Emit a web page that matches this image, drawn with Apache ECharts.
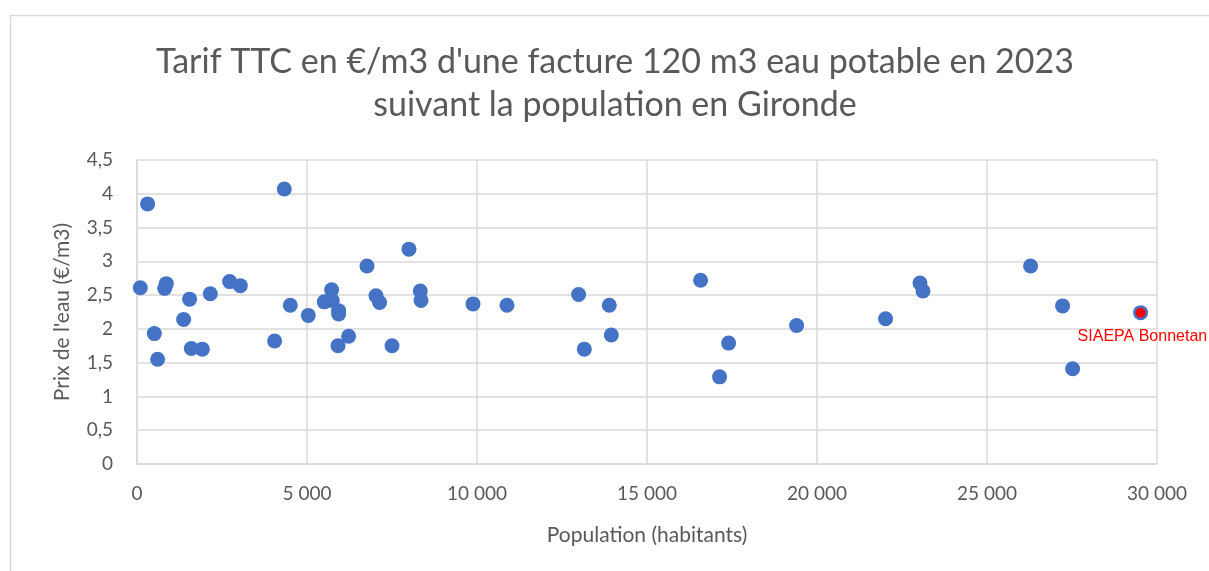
<!DOCTYPE html>
<html>
<head>
<meta charset="utf-8">
<script src="https://cdn.jsdelivr.net/npm/echarts@6/dist/echarts.min.js"></script>
<style>
  html, body { margin: 0; padding: 0; background: #fff; }
  #chart { width: 1209px; height: 571px; }
</style>
</head>
<body>
<div id="chart"></div>
<script>
// population (habitants) et prix TTC €/m3
var population = [312, 4332, 97, 862, 813, 1547, 2156, 2724, 3038, 1371, 509, 606, 1597, 1921,
  4047, 4509, 5038, 5724, 5509, 5744, 5930, 5930, 6765, 7999, 7029, 7135, 8332, 8353, 6224,
  5912, 7500, 9882, 10882, 12988, 13891, 13950, 13156, 16576, 17400, 17135, 19400, 22017,
  23029, 23117, 26282, 27223, 27518, 29518];
var prix = [3.85, 4.07, 2.61, 2.67, 2.60, 2.44, 2.52, 2.70, 2.64, 2.14, 1.93, 1.55, 1.71, 1.70,
  1.82, 2.35, 2.20, 2.58, 2.40, 2.42, 2.27, 2.22, 2.93, 3.18, 2.49, 2.39, 2.56, 2.42, 1.89,
  1.75, 1.75, 2.37, 2.35, 2.51, 2.35, 1.91, 1.70, 2.72, 1.79, 1.29, 2.05, 2.15,
  2.68, 2.56, 2.93, 2.34, 1.41, 2.24];
var bonnetan = { nom: 'SIAEPA Bonnetan', population: 29518, prix: 2.24 };

var points = [];
for (var i = 0; i < population.length; i++) {
  points.push([population[i], prix[i]]);
}

var chart = echarts.init(document.getElementById('chart'));
var gris = '#595959';
var grille = '#d9d9d9';

chart.setOption({
  animation: false,
  graphic: [{
    type: 'rect',
    shape: { x: 10.5, y: 15.5, width: 1220, height: 600 },
    style: { fill: 'none', stroke: '#d9d9d9', lineWidth: 1.5 },
    silent: true
  }],
  title: {
    text: "Tarif TTC en €/m3 d'une facture 120 m3 eau potable en 2023\nsuivant la population en Gironde",
    left: 610,
    top: 36,
    textAlign: 'center',
    textStyle: {
      fontFamily: 'Lato',
      fontWeight: 'normal',
      fontSize: 34,
      lineHeight: 43,
      color: gris
    }
  },
  grid: { left: 137, right: 52, top: 160, bottom: 107 },
  xAxis: {
    type: 'value',
    min: 0,
    max: 30000,
    interval: 5000,
    name: 'Population (habitants)',
    nameLocation: 'middle',
    nameGap: 61,
    nameTextStyle: { fontFamily: 'Lato', fontSize: 21, color: gris },
    axisLine: { show: true, lineStyle: { color: grille, width: 1.5 } },
    axisTick: { show: false },
    axisLabel: {
      margin: 20,
      fontFamily: 'Lato',
      fontSize: 19,
      color: gris,
      formatter: function (v) {
        return String(v).replace(/\B(?=(\d{3})+(?!\d))/g, ' ');
      }
    },
    splitLine: { show: true, lineStyle: { color: grille, width: 1.5 } }
  },
  yAxis: {
    type: 'value',
    min: 0,
    max: 4.5,
    interval: 0.5,
    name: "Prix de l'eau (€/m3)",
    nameLocation: 'middle',
    nameGap: 64,
    nameTextStyle: { fontFamily: 'Lato', fontSize: 21, color: gris },
    axisLine: { show: true, lineStyle: { color: grille, width: 1.5 } },
    axisTick: { show: false },
    axisLabel: {
      margin: 24,
      fontFamily: 'Lato',
      fontSize: 19,
      color: gris,
      formatter: function (v) { return String(v).replace('.', ','); }
    },
    splitLine: { show: true, lineStyle: { color: grille, width: 1.5 } }
  },
  series: [{
    type: 'scatter',
    symbolSize: 15,
    itemStyle: { color: '#4472c4', opacity: 1 },
    data: points
  }, {
    type: 'scatter',
    symbolSize: 10,
    itemStyle: { color: '#ff0000', opacity: 1 },
    label: {
      show: true,
      formatter: bonnetan.nom,
      position: [-58, 21],
      align: 'left',
      verticalAlign: 'top',
      fontFamily: 'Liberation Sans',
      fontSize: 16,
      color: '#ff0000'
    },
    data: [[bonnetan.population, bonnetan.prix]]
  }]
});
</script>
</body>
</html>
